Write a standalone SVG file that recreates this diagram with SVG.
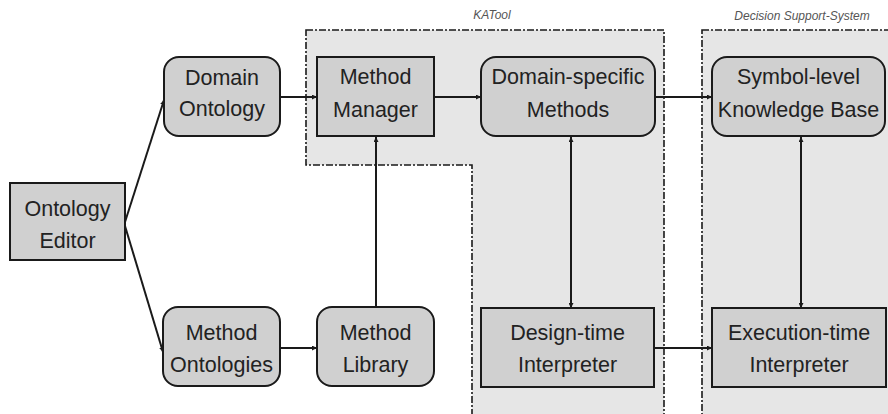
<svg xmlns="http://www.w3.org/2000/svg" width="888" height="414" viewBox="0 0 888 414">
<style>
.region{fill:#e6e6e6;stroke:#1a1a1a;stroke-width:1.6;stroke-dasharray:7 2 2 2}
.rlabel{font-family:"Liberation Sans",Arial,sans-serif;font-style:italic;font-size:12px;fill:#555;text-anchor:middle}
.box{fill:#d0d0d0;stroke:#1a1a1a;stroke-width:2}
.lbl{font-family:"Liberation Sans",Arial,sans-serif;font-size:21.5px;fill:#222;text-anchor:middle}
.con{fill:none;stroke:#1a1a1a;stroke-width:2}
</style>
<defs>
<marker id="ah" viewBox="0 0 8 8" refX="8" refY="4" markerWidth="5" markerHeight="5" orient="auto-start-reverse" markerUnits="userSpaceOnUse">
<path d="M0,0 L8,4 L0,8 z" fill="#1a1a1a"/>
</marker>
</defs>
<rect width="888" height="414" fill="#ffffff"/>
<g id="katool">
<path class="region" d="M306,30 H664 V416 H472 V165 H306 Z"/>
<text class="rlabel" x="492" y="19">KATool</text>
</g>
<g id="dss">
<rect class="region" x="702" y="30" width="200" height="400"/>
<text class="rlabel" x="802" y="20">Decision Support-System</text>
</g>
<g id="connectors">
<path class="con" d="M125,222 L164,100" marker-end="url(#ah)"/>
<path class="con" d="M125,226 L163,352" marker-end="url(#ah)"/>
<path class="con" d="M280,97 H317" marker-end="url(#ah)"/>
<path class="con" d="M434,97 H481" marker-end="url(#ah)"/>
<path class="con" d="M655,97 H712" marker-end="url(#ah)"/>
<path class="con" d="M376,307 V137" marker-end="url(#ah)"/>
<path class="con" d="M280,348 H317" marker-end="url(#ah)"/>
<path class="con" d="M571,137 V308" marker-start="url(#ah)" marker-end="url(#ah)"/>
<path class="con" d="M801,137 V308" marker-start="url(#ah)" marker-end="url(#ah)"/>
<path class="con" d="M654,348 H712" marker-end="url(#ah)"/>
</g>
<g id="ontology-editor">
<rect class="box" x="10" y="183" width="115" height="77"/>
<text class="lbl" x="67.5" y="216">Ontology</text>
<text class="lbl" x="67.5" y="248">Editor</text>
</g>
<g id="domain-ontology">
<rect class="box" x="164" y="57" width="116" height="79" rx="15"/>
<text class="lbl" x="222" y="85">Domain</text>
<text class="lbl" x="222" y="116">Ontology</text>
</g>
<g id="method-manager">
<rect class="box" x="317" y="57" width="117" height="79"/>
<text class="lbl" x="375.5" y="84">Method</text>
<text class="lbl" x="375.5" y="117">Manager</text>
</g>
<g id="domain-specific-methods">
<rect class="box" x="481" y="57" width="174" height="79" rx="15"/>
<text class="lbl" x="568" y="84">Domain-specific</text>
<text class="lbl" x="568" y="117">Methods</text>
</g>
<g id="symbol-level-kb">
<rect class="box" x="712" y="57" width="173" height="79" rx="15"/>
<text class="lbl" x="798.5" y="84">Symbol-level</text>
<text class="lbl" x="798.5" y="117">Knowledge Base</text>
</g>
<g id="method-ontologies">
<rect class="box" x="163" y="307" width="117" height="79" rx="15"/>
<text class="lbl" x="221.5" y="340">Method</text>
<text class="lbl" x="221.5" y="372">Ontologies</text>
</g>
<g id="method-library">
<rect class="box" x="317" y="307" width="117" height="79" rx="15"/>
<text class="lbl" x="375.5" y="340">Method</text>
<text class="lbl" x="375.5" y="372">Library</text>
</g>
<g id="design-time-interpreter">
<rect class="box" x="481" y="308" width="173" height="79"/>
<text class="lbl" x="567.5" y="340">Design-time</text>
<text class="lbl" x="567.5" y="372">Interpreter</text>
</g>
<g id="execution-time-interpreter">
<rect class="box" x="712" y="308" width="174" height="79"/>
<text class="lbl" x="799" y="340">Execution-time</text>
<text class="lbl" x="799" y="372">Interpreter</text>
</g>
</svg>
